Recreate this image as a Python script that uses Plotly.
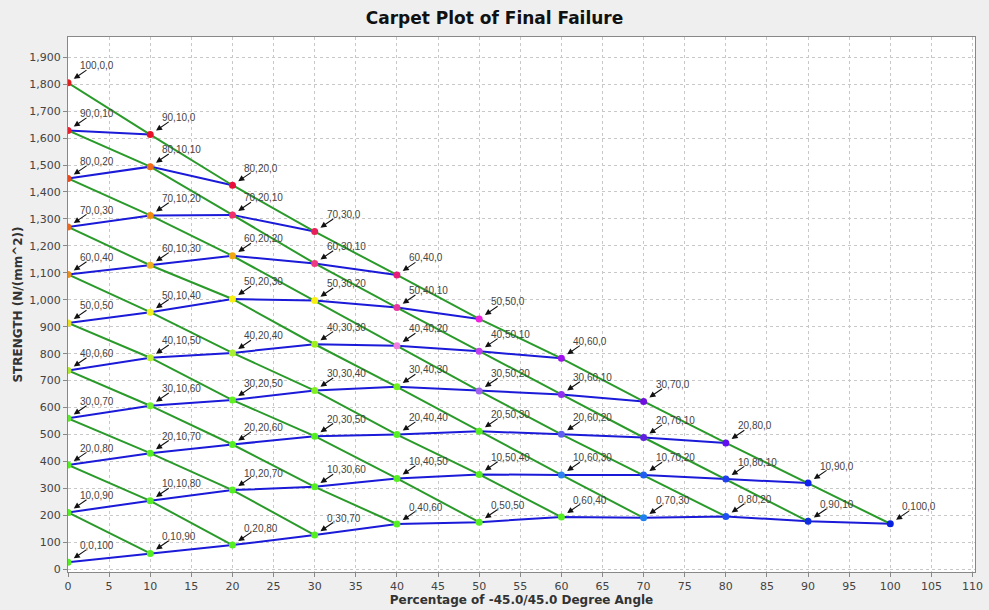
import plotly.graph_objects as go

# percentage of 0-degree plies for each blue line
pct_0deg = [100, 90, 80, 70, 60, 50, 40, 30, 20, 10, 0]
# percentage of -45/45 plies (x axis) values
pct_45deg = [0, 10, 20, 30, 40, 50, 60, 70, 80, 90, 100]

# strength (N/mm^2) for each 0-degree level, ordered by increasing 45-degree percentage
strength_0_100 = [1805]
strength_0_90 = [1628, 1613]
strength_0_80 = [1450, 1494, 1425]
strength_0_70 = [1270, 1313, 1315, 1253]
strength_0_60 = [1094, 1128, 1163, 1135, 1092]
strength_0_50 = [914, 954, 1003, 997, 971, 929]
strength_0_40 = [738, 785, 803, 835, 829, 809, 783]
strength_0_30 = [560, 607, 628, 663, 677, 662, 649, 623]
strength_0_20 = [387, 431, 463, 494, 500, 512, 501, 489, 469]
strength_0_10 = [211, 254, 294, 306, 337, 352, 350, 350, 335, 320]
strength_0_0 = [26, 59, 90, 127, 168, 175, 194, 191, 196, 178, 169]

strength_rows = [strength_0_100, strength_0_90, strength_0_80, strength_0_70,
                 strength_0_60, strength_0_50, strength_0_40, strength_0_30,
                 strength_0_20, strength_0_10, strength_0_0]

# marker colours per point (style)
G = "#55ee22"
marker_colors = [
    ["#e02020"],
    ["#e82030", "#e81028"],
    ["#e84a20", "#f06a18", "#e8103a"],
    ["#e86a20", "#f08a10", "#f0306a", "#e8205a"],
    ["#e89020", "#f0b020", "#f0a810", "#f03a80", "#e81a7a"],
    ["#e8e020", "#f0f020", "#f8f010", "#f8f010", "#e838a0", "#f020e0"],
    ["#b0e830", "#b8f030", "#a8f030", "#a0f020", "#f080e0", "#c040f0", "#a010f0"],
    ["#60e830", "#70f030", "#60f020", "#80f020", "#70f020", "#a060f0", "#9030f0", "#7010e0"],
    [G, G, G, G, G, G, "#6060f0", "#6020e0", "#6010f0"],
    [G, G, G, G, G, G, "#3080f0", "#2060f0", "#2040f0", "#1020f0"],
    [G, G, G, G, G, G, G, "#2080f0", "#2050f0", "#1030e0", "#0820e0"],
]

BLUE = "#1a1ad8"
GREEN = "#2a9a2a"

fig = go.Figure()

# blue lines: constant 0-degree percentage
for a, row in zip(pct_0deg, strength_rows):
    xs = pct_45deg[:len(row)]
    fig.add_trace(go.Scatter(x=xs, y=row, mode="lines",
                             line=dict(color=BLUE, width=2),
                             hoverinfo="skip", showlegend=False))

# green lines: constant 90-degree percentage
for c in range(0, 101, 10):
    xs, ys = [], []
    for a, row in zip(pct_0deg, strength_rows):
        b = 100 - a - c
        if b >= 0 and b % 10 == 0 and b // 10 < len(row):
            xs.append(b)
            ys.append(row[b // 10])
    order = sorted(range(len(xs)), key=lambda i: xs[i])
    xs = [xs[i] for i in order]
    ys = [ys[i] for i in order]
    if len(xs) > 1:
        fig.add_trace(go.Scatter(x=xs, y=ys, mode="lines",
                                 line=dict(color=GREEN, width=2),
                                 hoverinfo="skip", showlegend=False))

# markers
annotations = []
for a, row, cols in zip(pct_0deg, strength_rows, marker_colors):
    xs = pct_45deg[:len(row)]
    labels = [f"{a},{b},{100 - a - b}" for b in xs]
    fig.add_trace(go.Scatter(x=xs, y=row, mode="markers",
                             marker=dict(color=cols, size=7, line=dict(width=0)),
                             text=labels, hoverinfo="text", showlegend=False))
    for b, s, lab in zip(xs, row, labels):
        annotations.append(dict(x=b, y=s, xref="x", yref="y", text=" ",
                                font=dict(size=1), showarrow=True,
                                ax=19, ay=-13, arrowhead=2, arrowsize=1.1,
                                arrowwidth=1.1, arrowcolor="#111111",
                                standoff=7, borderpad=0))
        annotations.append(dict(x=b, y=s, xref="x", yref="y", text=lab,
                                showarrow=False, xanchor="left", yanchor="middle",
                                xshift=10, yshift=17,
                                font=dict(family="Liberation Sans, Arial", size=10,
                                          color="#444444")))

fig.update_layout(
    width=989, height=610,
    margin=dict(l=68, r=14, t=37, b=38),
    paper_bgcolor="#efefef",
    plot_bgcolor="#ffffff",
    title=dict(text="<b>Carpet Plot of Final Failure</b>", x=0.5, xref="container",
               xanchor="center", y=0.97, yref="container", yanchor="middle",
               font=dict(family="DejaVu Sans", size=17, color="#111111")),
    annotations=annotations,
    showlegend=False,
)

fig.update_xaxes(range=[0, 110.3], tick0=0, dtick=5, automargin=False,
                 showgrid=True, gridcolor="#c8c8c8", griddash="dot", gridwidth=1,
                 showline=True, linecolor="#888888", linewidth=1, mirror=True,
                 ticks="outside", ticklen=4, tickcolor="#888888", zeroline=False,
                 tickfont=dict(family="DejaVu Sans", size=11, color="#444444"),
                 title=dict(text="<b>Percentage of -45.0/45.0 Degree Angle</b>",
                            font=dict(family="DejaVu Sans", size=12, color="#333333"),
                            standoff=0))
fig.update_yaxes(range=[-10, 1975], tick0=0, dtick=100, tickformat=",d", automargin=False,
                 showgrid=True, gridcolor="#c8c8c8", griddash="dot", gridwidth=1,
                 showline=True, linecolor="#888888", linewidth=1, mirror=True,
                 ticks="outside", ticklen=4, tickcolor="#888888", zeroline=False,
                 tickfont=dict(family="DejaVu Sans", size=11, color="#444444"),
                 title=dict(text="<b>STRENGTH (N/(mm^2))</b>",
                            font=dict(family="DejaVu Sans", size=12, color="#333333"),
                            standoff=4))

fig.write_html("out.html")
